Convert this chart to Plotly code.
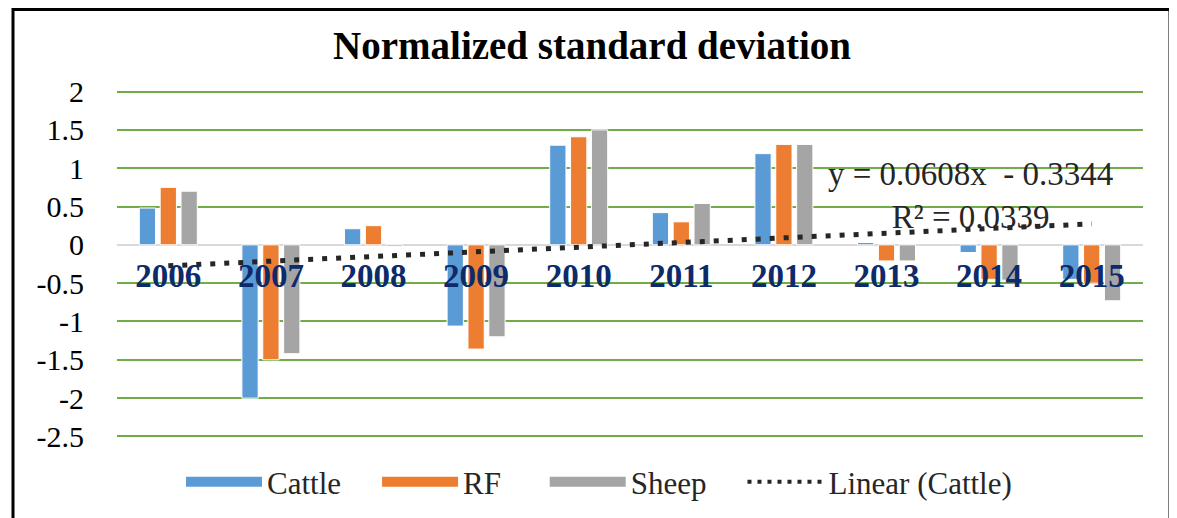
import plotly.graph_objects as go

years = ['2006', '2007', '2008', '2009', '2010', '2011', '2012', '2013', '2014', '2015']
cattle = [0.48, -2.00, 0.21, -1.06, 1.30, 0.42, 1.19, 0.03, -0.10, -0.45]
rf = [0.75, -1.50, 0.25, -1.36, 1.41, 0.30, 1.31, -0.21, -0.45, -0.50]
sheep = [0.70, -1.42, -0.02, -1.20, 1.50, 0.54, 1.31, -0.21, -0.46, -0.73]

# trendline shown on the chart (Excel linear fit on Cattle, x = 1..10)
slope = 0.0608
intercept = -0.3344
trend = [slope * (i + 1) + intercept for i in range(len(years))]

y_ticks = [2, 1.5, 1, 0.5, 0, -0.5, -1, -1.5, -2, -2.5]

colors = {'Cattle': '#5B9BD5', 'RF': '#ED7D31', 'Sheep': '#A5A5A5'}
serif = 'Liberation Serif'
# spacing after each legend entry
pads = {'Cattle': '\u00a0' * 4, 'RF': '\u00a0' * 5, 'Sheep': '\u00a0' * 4}

fig = go.Figure()

for name, vals in [('Cattle', cattle), ('RF', rf), ('Sheep', sheep)]:
    fig.add_trace(go.Bar(
        x=years, y=vals, name=name,
        marker=dict(color=colors[name], line=dict(color='white', width=1)),
        showlegend=False, legendgroup=name
    ))

fig.add_trace(go.Scatter(
    x=years, y=trend, mode='lines', name='Linear (Cattle)',
    line=dict(color='#262626', width=5, dash='5px,9px'),
    showlegend=False, legendgroup='trend'
))

# legend entries (wide swatches like Excel)
for name in ['Cattle', 'RF', 'Sheep']:
    fig.add_trace(go.Scatter(
        x=[None], y=[None], mode='lines', name=name + pads[name],
        line=dict(color=colors[name], width=12), legendgroup=name
    ))
fig.add_trace(go.Scatter(
    x=[None], y=[None], mode='lines', name='Linear (Cattle)',
    line=dict(color='#262626', width=4, dash='4px,6px'), legendgroup='trend'
))

# page body has an 8px margin, so the figure is drawn 8px in from the corner
W, H = 1169, 510
ml, mr, mt, mb = 109, 34, 82, 80
pw, ph = W - ml - mr, H - mt - mb

def px_x(v):
    return (v - ml) / pw

def px_y(v):
    return (H - mb - v) / ph

fig.add_annotation(
    text='y = 0.0608x  - 0.3344<br>R² = 0.0339',
    xref='paper', yref='paper', x=px_x(962), y=px_y(187),
    xanchor='center', yanchor='middle',
    showarrow=False, align='center',
    font=dict(family=serif, size=33, color='#262626')
)

fig.add_shape(
    type='rect', xref='paper', yref='paper',
    x0=px_x(5), x1=px_x(1162), y0=px_y(525), y1=px_y(1.5),
    line=dict(color='black', width=3), fillcolor='rgba(0,0,0,0)', layer='below'
)

fig.update_layout(
    width=W, height=H,
    margin=dict(l=ml, r=mr, t=mt, b=mb, autoexpand=False),
    paper_bgcolor='white', plot_bgcolor='white',
    title=dict(
        text='<b>Normalized standard deviation</b>',
        x=584 / W, xanchor='center', y=1 - 37 / H, yanchor='middle',
        font=dict(family=serif, size=39, color='black')
    ),
    barmode='group', bargap=0.39, bargroupgap=0.22,
    showlegend=True,
    legend=dict(
        orientation='h', x=px_x(173), xanchor='left',
        y=px_y(474), yanchor='middle',
        font=dict(family=serif, size=31, color='#262626'),
        itemwidth=76,
        itemclick=False, itemdoubleclick=False,
        bgcolor='rgba(0,0,0,0)'
    ),
    xaxis=dict(
        type='category', anchor='free', position=2.52 / 4.54,
        showgrid=False, showline=False, ticks='',
        ticklabelstandoff=8,
        tickfont=dict(family=serif, size=33, color='#0D2A6B', weight='bold'),
        fixedrange=True
    ),
    yaxis=dict(
        range=[-2.52, 2.02], tickvals=y_ticks, ticktext=[str(v) for v in y_ticks],
        showgrid=True, gridcolor='#70AD47', gridwidth=2,
        zeroline=True, zerolinecolor='#D9D9D9', zerolinewidth=1.5,
        showline=False, ticks='', ticklabelstandoff=32,
        tickfont=dict(family=serif, size=30, color='black'),
        fixedrange=True
    ),
)

fig.write_html('out.html')
